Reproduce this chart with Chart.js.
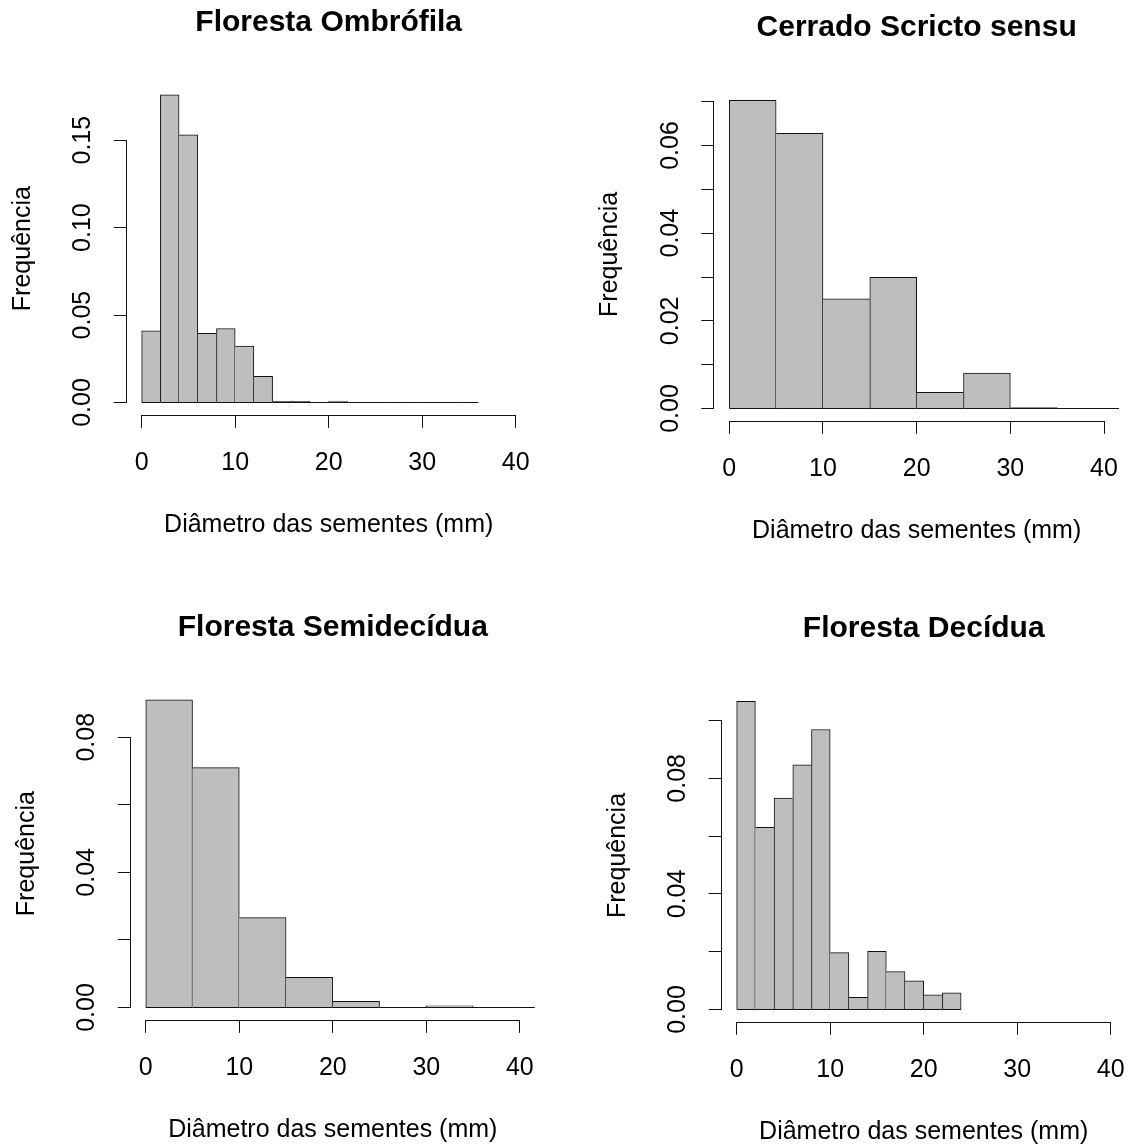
<!DOCTYPE html>
<html>
<head>
<meta charset="utf-8">
<script src="https://cdn.jsdelivr.net/npm/chart.js@4.4.1/dist/chart.umd.min.js"></script>
<style>
  html, body { margin: 0; padding: 0; background: #ffffff; }
  #page { position: relative; width: 1132px; height: 1147px; overflow: hidden; }
  #page canvas { position: absolute; }
</style>
</head>
<body>
<div id="page">
  <canvas id="h0" width="566" height="573" style="left:0px;top:0px"></canvas>
  <canvas id="h1" width="566" height="573" style="left:566px;top:0px"></canvas>
  <canvas id="h2" width="566" height="574" style="left:0px;top:573px"></canvas>
  <canvas id="h3" width="566" height="574" style="left:566px;top:573px"></canvas>
</div>
<script>
// ---- Data: bin edges (mm) and density of each bin, one pair per vegetation type ----
const breaksOmbrofila = [0, 2, 4, 6, 8, 10, 12, 14, 16, 18, 20, 22, 24, 26, 28, 30, 32, 34, 36];
const densityOmbrofila = [0.0410, 0.1760, 0.1530, 0.0396, 0.0423, 0.0322, 0.0149, 0.0006, 0.0006, 0,
                          0.0008, 0, 0, 0, 0, 0, 0, 0];

const breaksCerrado = [0, 5, 10, 15, 20, 25, 30, 35, 40, 45];
const densityCerrado = [0.0703, 0.0628, 0.0250, 0.0299, 0.0037, 0.0081, 0.0002, 0, 0];

const breaksSemidecidua = [0, 5, 10, 15, 20, 25, 30, 35, 40, 45];
const densitySemidecidua = [0.0911, 0.0710, 0.0266, 0.0089, 0.0018, 0, 0.0005, 0, 0];

const breaksDecidua = [0, 2, 4, 6, 8, 10, 12, 14, 16, 18, 20, 22, 24];
const densityDecidua = [0.1066, 0.0630, 0.0732, 0.0847, 0.0969, 0.0197, 0.0042, 0.0201, 0.0131, 0.0099,
                        0.0051, 0.0058];

const panelTitles = ['Floresta Ombrófila', 'Cerrado Scricto sensu', 'Floresta Semidecídua', 'Floresta Decídua'];
const xAxisTitle = 'Diâmetro das sementes (mm)';
const yAxisTitle = 'Frequência';
const xLimits = [0, 40];
const xTickStep = 10;
const yTickSteps = [0.05, 0.01, 0.02, 0.02];
const yLabelEvery = [1, 2, 2, 2];

const panelBreaks = [breaksOmbrofila, breaksCerrado, breaksSemidecidua, breaksDecidua];
const panelDensity = [densityOmbrofila, densityCerrado, densitySemidecidua, densityDecidua];

// ---- Layout (page pixels): canvas of each panel and its plotting region ----
const canvasBoxes = [
  { x: 0,   y: 0,   w: 566, h: 573 },
  { x: 566, y: 0,   w: 566, h: 573 },
  { x: 0,   y: 573, w: 566, h: 574 },
  { x: 566, y: 573, w: 566, h: 574 }
];
const plotBoxes = [
  { l: 126.7, r: 530.7,  t: 82.6,  b: 415.0 },
  { l: 714.3, r: 1119.0, t: 88.5,  b: 421.3 },
  { l: 130.8, r: 534.8,  t: 687.6, b: 1020.0 },
  { l: 721.7, r: 1125.7, t: 689.6, b: 1022.3 }
];

const INK = '#111111';
const BAR_FILL = '#bebebe';
const TITLE_SIZE = 30;
const TEXT_SIZE = 25;
const TITLE_LH = TITLE_SIZE * 1.2;
const TEXT_LH = TEXT_SIZE * 1.2;
const TITLE_GAP = 60;      // main title centre above the plot region
const XLAB_GAP = 110;      // x label centre below the plot region
const YLAB_GAP = 103.7;    // y label centre left of the plot region
const TICK_LEN = 13;
const Y_TICK_PAD = 6;
const X_TICK_PAD = 20;
const Y_EXPAND = 0.04;     // axis range expansion on each side

Chart.defaults.font.family = '"Liberation Sans", Arial, Helvetica, sans-serif';
Chart.defaults.color = '#000000';

// R-style axis lines: run only from the first to the last tick
const axisLines = {
  id: 'axisLines',
  afterDraw(chart) {
    const { ctx, chartArea } = chart;
    const xs = chart.scales.x, ys = chart.scales.y;
    ctx.save();
    ctx.strokeStyle = INK;
    ctx.lineWidth = 1;
    const x0 = Math.round(xs.getPixelForValue(xs.ticks[0].value) - 0.5) + 0.5;
    const x1 = Math.round(xs.getPixelForValue(xs.ticks[xs.ticks.length - 1].value) - 0.5) + 0.5;
    const yb = Math.round(chartArea.bottom) + 0.5;
    ctx.beginPath();
    ctx.moveTo(x0 - 0.5, yb);
    ctx.lineTo(x1 + 0.5, yb);
    ctx.stroke();
    const y0 = Math.round(ys.getPixelForValue(ys.ticks[0].value) - 0.5) + 0.5;
    const y1 = Math.round(ys.getPixelForValue(ys.ticks[ys.ticks.length - 1].value) - 0.5) + 0.5;
    const xl = Math.round(chartArea.left) - 0.5;
    ctx.beginPath();
    ctx.moveTo(xl, y0 + 0.5);
    ctx.lineTo(xl, y1 - 0.5);
    ctx.stroke();
    ctx.restore();
  }
};

// Each shared bin edge is stroked once, by the taller of the two bars;
// the common bottom edge comes from the zero line drawn over the bars
function binBorder(c) {
  if (c.type !== 'data') return 1;
  const d = c.dataset.data;
  const i = c.dataIndex;
  const h = d[i].y;
  const prev = i > 0 ? d[i - 1].y : 0;
  const next = i < d.length - 1 ? d[i + 1].y : 0;
  return { top: 1, bottom: 0, left: h >= prev ? 1 : 0, right: h > next ? 1 : 0 };
}

function drawHistogram(k) {
  const breaks = panelBreaks[k];
  const dens = panelDensity[k];
  const cb = canvasBoxes[k];
  const pb = plotBoxes[k];

  const bins = dens.map((v, i) => ({ x: (breaks[i] + breaks[i + 1]) / 2, y: v }));
  const baseline = breaks.map(b => ({ x: b, y: 0 }));

  const ymax = Math.max(...dens);
  const xSpan = xLimits[1] - xLimits[0];

  // nudge the plot region so the zero line sits on a pixel centre
  const frac0 = Y_EXPAND / (1 + 2 * Y_EXPAND);
  const zeroPx = pb.b - frac0 * (pb.b - pb.t);
  const nudge = Math.floor(zeroPx) + 0.5 - zeroPx;

  const left = pb.l - cb.x, right = pb.r - cb.x;
  const top = pb.t + nudge - cb.y, bottom = pb.b + nudge - cb.y;
  const titlePadTop = top - TITLE_GAP - TITLE_LH / 2;
  const titlePadBottom = top - titlePadTop - TITLE_LH;
  const xAxisHeight = XLAB_GAP + TEXT_LH / 2;

  new Chart(document.getElementById('h' + k), {
    type: 'bar',
    data: {
      datasets: [
        {
          type: 'line',
          order: 0,
          data: baseline,
          borderColor: INK,
          borderWidth: 1,
          pointRadius: 0,
          fill: false
        },
        {
          type: 'bar',
          order: 1,
          data: bins,
          backgroundColor: BAR_FILL,
          borderColor: INK,
          borderWidth: binBorder,
          borderSkipped: false,
          barPercentage: 1,
          categoryPercentage: 1,
          grouped: false
        }
      ]
    },
    options: {
      responsive: false,
      animation: false,
      events: [],
      layout: {
        padding: { left: 0, top: 0, right: cb.w - right, bottom: Math.max(0, cb.h - bottom - xAxisHeight) }
      },
      plugins: {
        legend: { display: false },
        tooltip: { enabled: false },
        title: {
          display: true,
          text: panelTitles[k],
          fullSize: false,
          color: '#000000',
          font: { size: TITLE_SIZE, weight: 'bold' },
          padding: { top: titlePadTop, bottom: titlePadBottom }
        }
      },
      scales: {
        x: {
          type: 'linear',
          position: 'bottom',
          min: xLimits[0] - Y_EXPAND * xSpan,
          max: xLimits[1] + Y_EXPAND * xSpan,
          offset: false,
          border: { display: false },
          grid: { offset: false, drawOnChartArea: false, drawTicks: true, tickLength: TICK_LEN, color: INK, lineWidth: 1 },
          ticks: {
            stepSize: xTickStep,
            includeBounds: false,
            autoSkip: false,
            maxRotation: 0,
            padding: X_TICK_PAD,
            font: { size: TEXT_SIZE },
            callback: v => String(v)
          },
          title: { display: true, text: xAxisTitle, font: { size: TEXT_SIZE }, padding: { top: 0, bottom: 0 } },
          afterFit(s) { s.height = xAxisHeight; s.paddingLeft = 0; s.paddingRight = 0; }
        },
        y: {
          type: 'linear',
          position: 'left',
          min: -Y_EXPAND * ymax,
          max: (1 + Y_EXPAND) * ymax,
          border: { display: false },
          grid: { drawOnChartArea: false, drawTicks: true, tickLength: TICK_LEN, color: INK, lineWidth: 1 },
          ticks: {
            stepSize: yTickSteps[k],
            includeBounds: false,
            autoSkip: false,
            minRotation: 90,
            maxRotation: 90,
            crossAlign: 'center',
            padding: Y_TICK_PAD,
            font: { size: TEXT_SIZE },
            callback: (v, i) => (i % yLabelEvery[k] === 0 ? Number(v).toFixed(2) : '')
          },
          title: {
            display: true,
            text: yAxisTitle,
            font: { size: TEXT_SIZE },
            padding: { top: left - YLAB_GAP - TEXT_LH / 2, bottom: 0 }
          },
          afterFit(s) { s.width = left; s.paddingTop = 0; s.paddingBottom = 0; }
        }
      }
    },
    plugins: [axisLines]
  });
}

for (let k = 0; k < 4; k++) drawHistogram(k);
</script>
</body>
</html>
